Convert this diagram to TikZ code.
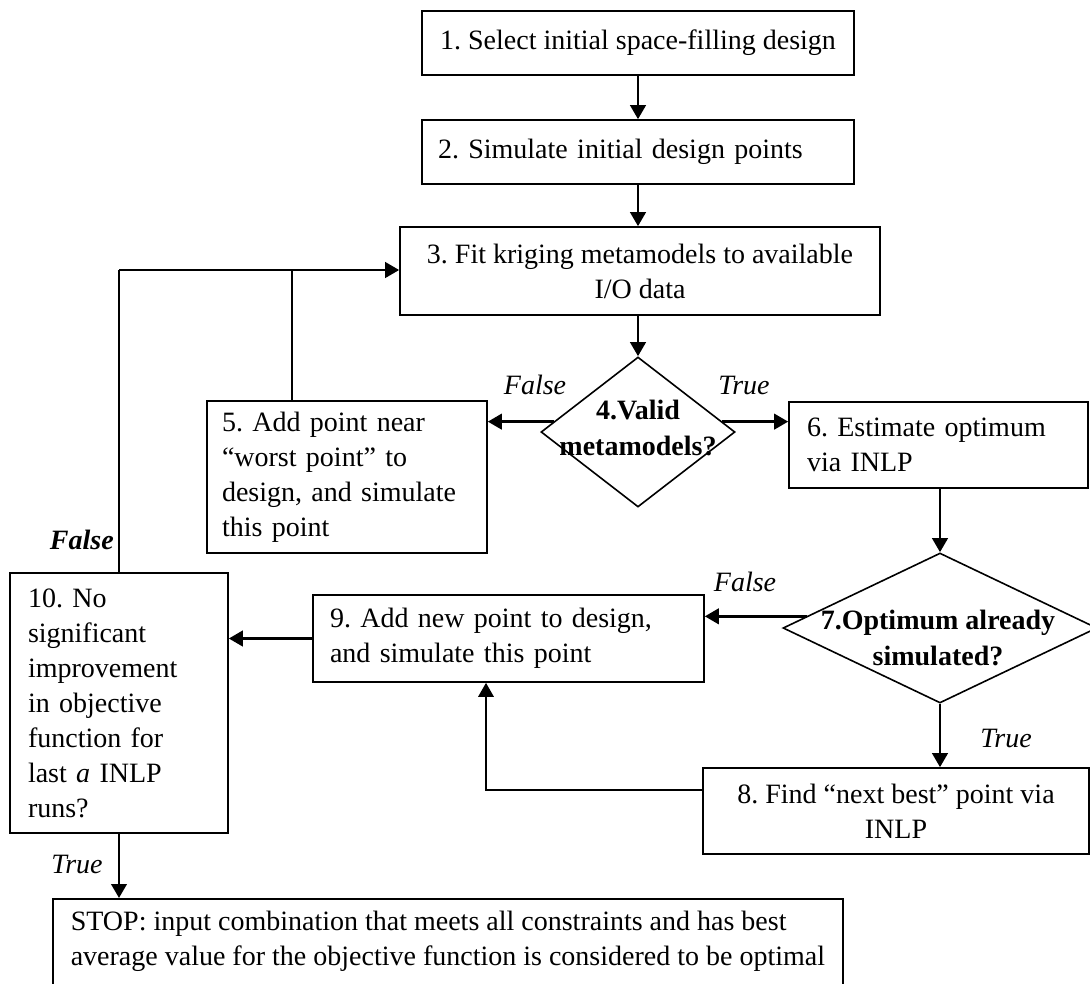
\documentclass[tikz,border=0pt]{standalone}
\usepackage{fontspec}
\setmainfont{Liberation Serif}
\usetikzlibrary{arrows.meta,shapes.geometric}
\newdimen\pxu
\pxu=0.75pt
\frenchspacing
\hyphenpenalty=10000
\exhyphenpenalty=10000
\begin{document}
\begin{tikzpicture}[x=0.75pt,y=-0.75pt,
  font=\fontsize{21}{26.25}\selectfont,
  box/.style={draw, line width=1.2pt, rectangle, inner ysep=0pt},
  dec/.style={draw, diamond, line width=1.2pt, inner sep=0pt},
  dtext/.style={font=\fontsize{21}{27}\selectfont\bfseries, align=center, inner sep=0pt},
  lbl/.style={font=\fontsize{21}{26.25}\selectfont\itshape, inner sep=0pt},
  arr/.style={line width=2.2pt, -{Triangle[length=10.5pt,width=11.5pt]}},
  thinline/.style={line width=1.2pt},
  midarr/.style={line width=1.6pt, -{Triangle[length=10.5pt,width=11.5pt]}}
]
\useasboundingbox (0,0) rectangle (1090,983);

\node[box, minimum width=432\pxu, minimum height=64\pxu, align=center] (b1) at (638,43) {1. Select initial space-filling design};
\node[box, minimum width=432\pxu, minimum height=64\pxu, text width=400\pxu, inner xsep=16\pxu, align=left] (b2) at (638,152) {2. Simulate initial design points};
\node[box, minimum width=480\pxu, minimum height=88\pxu, align=center] (b3) at (640,271) {3. Fit kriging metamodels to available\\I/O data};

\node[dec, minimum width=194\pxu, minimum height=150\pxu] (d4) at (638,432) {};
\node[dtext] (d4t) at (638,428) {4.Valid\\metamodels?};

\node[box, minimum width=280\pxu, minimum height=152\pxu, text width=250\pxu, inner xsep=15\pxu, align=left] (b5) at (347,477) {5. Add point near\\“worst point” to\\design, and simulate\\this point};
\node[box, minimum width=299\pxu, minimum height=86\pxu, text width=263\pxu, inner xsep=18\pxu, align=left] (b6) at (938.5,445) {6. Estimate optimum\\via INLP};

\node[dec, minimum width=314\pxu, minimum height=150\pxu] (d7) at (940,628) {};
\node[dtext] (d7t) at (938,638) {7.Optimum already\\simulated?};

\node[box, minimum width=391\pxu, minimum height=87\pxu, text width=357\pxu, inner xsep=17\pxu, align=left] (b9) at (508.5,638.5) {9. Add new point to design,\\and simulate this point};
\node[box, minimum width=218\pxu, minimum height=260\pxu, text width=182\pxu, inner xsep=18\pxu, align=left] (b10) at (119,703) {10. No\\significant\\improvement\\in objective\\function for\\last \textit{a} INLP\\runs?};
\node[box, minimum width=386\pxu, minimum height=86\pxu, align=center] (b8) at (896,811) {8. Find “next best” point via\\INLP};

\node[box, anchor=north west, inner xsep=18\pxu, inner ysep=12\pxu, text depth=60\pxu, align=left] (stop) at (52,898) {STOP: input combination that meets all constraints and has best\\average value for the objective function is considered to be optimal};

\coordinate (c89) at (486,790);
\coordinate (cl) at (119,270);
\coordinate (cm) at (292,270);

\draw[arr] (b1) -- (b2);
\draw[arr] (b2) -- (b2 |- b3.north);
\draw[arr] (b3.south -| d4.north) -- (d4.north);
\draw[arr] (d4.173) -- (d4.173 -| b5.east);
\draw[arr] (d4.7) -- (d4.7 -| b6.west);
\draw[arr] (b6.south -| d7.north) -- (d7.north);
\draw[arr] (d7.175) -- (d7.175 -| b9.east);
\draw[arr] (d7) -- (d7 |- b8.north);
\draw[midarr] (b8.west |- c89) -- (c89) -- (c89 |- b9.south);
\draw[arr] (b9) -- (b9 -| b10.east);
\draw[thinline] (b10.north -| cl) -- (cl);
\draw[arr] (cl) -- (cl -| b3.west);
\draw[thinline] (b5.north -| cm) -- (cm);
\draw[arr] (b10.south -| cl) -- (cl |- stop.north);

\node[lbl] (l1) at (535,385) {False};
\node[lbl] (l2) at (744,385) {True};
\node[lbl] (l3) at (745,582) {False};
\node[lbl] (l4) at (1006,738) {True};
\node[lbl, font=\fontsize{21}{26.25}\selectfont\bfseries\itshape, anchor=east] (l5) at (114,540) {False};
\node[lbl] (l6) at (77,864) {True};
\end{tikzpicture}
\end{document}
